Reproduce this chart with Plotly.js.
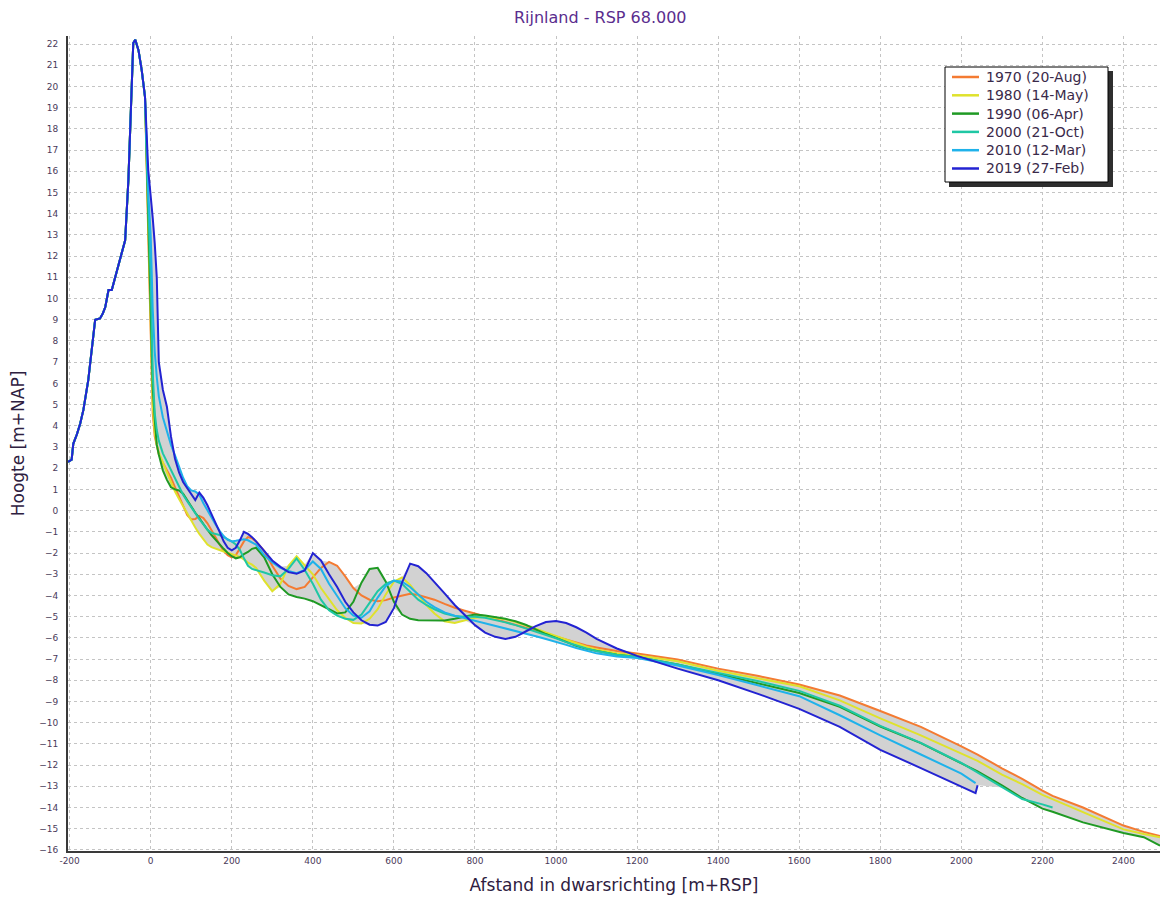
<!DOCTYPE html>
<html>
<head>
<meta charset="utf-8">
<script src="https://cdn.plot.ly/plotly-3.0.1.min.js"></script>
<style>html,body{margin:0;padding:0;background:#fff;}#chart{width:1161px;height:899px;}</style>
</head>
<body>
<div id="chart"></div>
<script>
// Shared dune profile (all surveys coincide landward of the dune front)
const duneX = [-204,-200,-195,-191,-182,-174,-166,-154,-141,-137,-125,-118,-112,-104,-96,-88,-83,-71,-63,-55,-49,-43,-38,-30,-22,-14];
const duneY = [2.3,2.35,2.4,3.15,3.6,4.1,4.75,6.15,8.2,9.0,9.06,9.3,9.6,10.4,10.4,11.0,11.35,12.2,12.75,15.6,18.8,22.05,22.2,21.7,20.75,19.5];

// Seaward distances [m+RSP]
const afstand = [-6,0,5,10,15,20,30,40,50,60,70,80,90,100,110,120,130,140,150,160,170,180,190,200,210,220,230,240,250,260,
  280,300,320,340,360,380,400,420,440,460,480,500,520,540,560,580,600,620,640,660,680,700,
  725,750,775,800,825,850,875,900,925,950,975,1000,1025,1050,1075,1100,1150,1200,
  1300,1400,1500,1600,1700,1800,1900,2000,2035,2040,2100,2150,2200,2225,2300,2400,2450,2490];

const h1970 = [13.0,9.0,4.6,3.5,3.0,2.65,2.25,1.9,1.55,1.1,0.65,0.2,-0.2,-0.42,-0.4,-0.25,-0.35,-0.6,-0.9,-1.25,-1.6,-1.9,-2.1,-2.2,-2.1,-1.8,-1.45,-1.25,-1.3,-1.45,
  -1.9,-2.6,-3.2,-3.55,-3.7,-3.6,-3.15,-2.7,-2.42,-2.6,-3.1,-3.65,-4.0,-4.2,-4.27,-4.22,-4.1,-4.0,-3.92,-3.98,-4.1,-4.2,
  -4.4,-4.58,-4.72,-4.85,-4.97,-5.1,-5.23,-5.38,-5.52,-5.66,-5.8,-5.94,-6.08,-6.22,-6.36,-6.45,-6.62,-6.74,
  -7.02,-7.45,-7.8,-8.2,-8.72,-9.45,-10.2,-11.12,-11.45,-11.5,-12.15,-12.65,-13.2,-13.45,-14.0,-14.85,-15.15,-15.35];

const h1980 = [13.5,9.5,5.0,3.7,3.1,2.75,2.25,1.8,1.35,0.9,0.55,0.2,-0.15,-0.5,-0.8,-1.1,-1.35,-1.6,-1.72,-1.8,-1.87,-1.93,-1.98,-2.05,-2.1,-2.18,-2.3,-2.45,-2.55,-2.7,
  -3.3,-3.8,-3.45,-2.6,-2.15,-2.55,-3.0,-3.65,-4.2,-4.7,-5.05,-5.3,-5.32,-5.1,-4.65,-3.95,-3.35,-3.15,-3.5,-4.0,-4.45,-4.85,
  -5.22,-5.3,-5.18,-5.05,-5.0,-5.05,-5.12,-5.25,-5.4,-5.57,-5.75,-5.92,-6.1,-6.27,-6.42,-6.55,-6.72,-6.82,
  -7.1,-7.55,-7.9,-8.28,-8.95,-9.8,-10.6,-11.45,-11.75,-11.8,-12.45,-12.9,-13.4,-13.6,-14.2,-15.03,-15.25,-15.4];

const h1990 = [13.8,10.0,5.8,4.3,3.1,2.65,1.9,1.45,1.1,1.0,0.95,0.8,0.5,0.15,-0.1,-0.35,-0.65,-0.9,-1.15,-1.35,-1.55,-1.8,-2.0,-2.15,-2.25,-2.2,-2.05,-1.95,-1.8,-1.75,
  -2.2,-3.0,-3.6,-3.95,-4.07,-4.15,-4.27,-4.45,-4.65,-4.85,-4.8,-4.3,-3.4,-2.75,-2.7,-3.35,-4.3,-4.9,-5.1,-5.17,-5.18,-5.2,
  -5.18,-5.1,-5.0,-4.9,-4.95,-5.02,-5.1,-5.22,-5.38,-5.6,-5.82,-6.0,-6.2,-6.38,-6.52,-6.62,-6.8,-6.9,
  -7.25,-7.7,-8.15,-8.6,-9.25,-10.18,-10.96,-11.92,-12.25,-12.3,-12.95,-13.55,-14.05,-14.2,-14.7,-15.2,-15.4,-15.8];

const h2000 = [14.5,11.0,6.5,4.6,3.8,3.3,2.7,2.3,1.9,1.5,1.1,0.75,0.45,0.15,-0.1,-0.4,-0.65,-0.9,-1.05,-1.1,-1.15,-1.25,-1.35,-1.45,-1.6,-1.85,-2.25,-2.6,-2.75,-2.8,
  -2.92,-3.05,-3.1,-2.75,-2.25,-2.8,-3.45,-4.2,-4.7,-4.95,-5.1,-5.15,-4.9,-4.35,-3.8,-3.45,-3.3,-3.45,-3.85,-4.2,-4.45,-4.65,
  -4.85,-4.97,-5.0,-5.0,-5.05,-5.15,-5.27,-5.4,-5.55,-5.7,-5.87,-6.02,-6.2,-6.36,-6.5,-6.62,-6.8,-6.9,
  -7.25,-7.65,-8.05,-8.5,-9.2,-10.15,-10.95,-11.9,-12.3,-12.35,-13.05,-13.6,-13.85,-14.0,null,null,null,null];

const h2010 = [15.0,13.0,9.5,7.5,6.3,5.4,4.4,3.7,3.1,2.6,2.05,1.55,1.15,0.95,0.9,0.75,0.35,0.0,-0.35,-0.65,-0.95,-1.2,-1.38,-1.45,-1.42,-1.38,-1.35,-1.4,-1.5,-1.6,
  -2.1,-2.45,-2.7,-2.85,-2.95,-2.8,-2.4,-2.75,-3.45,-4.05,-4.6,-4.95,-5.05,-4.75,-4.1,-3.55,-3.3,-3.35,-3.6,-3.95,-4.3,-4.55,
  -4.8,-4.95,-5.07,-5.17,-5.3,-5.42,-5.55,-5.65,-5.78,-5.92,-6.05,-6.18,-6.33,-6.48,-6.62,-6.73,-6.88,-6.95,
  -7.3,-7.75,-8.25,-8.75,-9.65,-10.6,-11.5,-12.4,-12.85,null,null,null,null,null,null,null,null,null];

const h2019 = [16.05,15.0,13.8,12.6,11.0,7.0,5.7,4.9,3.5,2.45,1.8,1.35,1.05,0.75,0.5,0.85,0.6,0.25,-0.15,-0.6,-1.0,-1.45,-1.75,-1.87,-1.75,-1.4,-1.0,-1.1,-1.25,-1.45,
  -1.9,-2.35,-2.65,-2.9,-2.98,-2.82,-2.0,-2.35,-3.0,-3.6,-4.3,-4.8,-5.17,-5.38,-5.42,-5.25,-4.6,-3.4,-2.5,-2.62,-2.95,-3.36,
  -3.9,-4.45,-4.95,-5.4,-5.75,-5.95,-6.05,-5.95,-5.7,-5.45,-5.25,-5.2,-5.3,-5.5,-5.75,-6.05,-6.5,-6.85,
  -7.45,-8.0,-8.65,-9.35,-10.2,-11.28,-12.14,-13.0,-13.32,-12.95,null,null,null,null,null,null,null,null];

const seriesNames = ['1970 (20-Aug)','1980 (14-May)','1990 (06-Apr)','2000 (21-Oct)','2010 (12-Mar)','2019 (27-Feb)'];
const seriesData = [h1970,h1980,h1990,h2000,h2010,h2019];
const seriesColors = ['#f47b32','#dfe22c','#1f9a24','#1fc7a4','#1fb2ea','#2323d2'];

const xTicks = [-200,0,200,400,600,800,1000,1200,1400,1600,1800,2000,2200,2400];

// Envelope (grey band between lowest and highest profile)
const upper = afstand.map((_, i) => Math.max(...seriesData.map(s => s[i]).filter(v => v !== null)));
const lower = afstand.map((_, i) => Math.min(...seriesData.map(s => s[i]).filter(v => v !== null)));

const traces = [{
  x: afstand.concat(afstand.slice().reverse()),
  y: upper.concat(lower.slice().reverse()),
  type: 'scatter', mode: 'lines', fill: 'toself',
  fillcolor: '#d2d2d2', line: {width: 0, color: 'rgba(0,0,0,0)'},
  showlegend: false, hoverinfo: 'skip'
}];
seriesNames.forEach((name, k) => {
  traces.push({
    x: duneX.concat(afstand),
    y: duneY.concat(seriesData[k]),
    type: 'scatter', mode: 'lines', name: name,
    line: {color: seriesColors[k], width: 2},
    connectgaps: false, showlegend: false
  });
});

// Plot-area geometry (pixels) used to place the framed legend
const M = {l: 68, r: 1, t: 36, b: 48};
const PW = 1161 - M.l - M.r, PH = 899 - M.t - M.b;
const px = v => (v - M.l) / PW;
const py = v => 1 - (v - M.t) / PH;

const FONT = 'DejaVu Sans, Verdana, sans-serif';
const shapes = [
  {type: 'rect', xref: 'paper', yref: 'paper', layer: 'above',
   x0: px(949), x1: px(1113), y0: py(187), y1: py(71), fillcolor: '#2e2e2e', line: {width: 0}},
  {type: 'rect', xref: 'paper', yref: 'paper', layer: 'above',
   x0: px(945), x1: px(1108), y0: py(182), y1: py(67), fillcolor: '#ffffff', line: {width: 1, color: '#000000'}}
];
const annotations = [];
seriesNames.forEach((name, k) => {
  const rowY = 77 + k * 18.3;
  shapes.push({type: 'line', xref: 'paper', yref: 'paper', layer: 'above',
    x0: px(952), x1: px(979), y0: py(rowY), y1: py(rowY),
    line: {color: seriesColors[k], width: 2.5}});
  annotations.push({xref: 'paper', yref: 'paper', x: px(984), y: py(rowY), xanchor: 'left', yanchor: 'middle',
    text: name, showarrow: false, font: {family: FONT, size: 14, color: '#3a2a4a'}});
});

const layout = {
  width: 1161, height: 899,
  margin: M,
  paper_bgcolor: '#ffffff', plot_bgcolor: '#ffffff',
  font: {family: FONT, size: 10, color: '#4a3a5a'},
  showlegend: false,
  title: {text: 'Rijnland - RSP 68.000', x: 0.517, xref: 'container', y: 0.981, yref: 'container', yanchor: 'middle',
          font: {family: FONT, size: 16, color: '#5a2d8e'}},
  xaxis: {
    range: [-204, 2490], tickvals: xTicks, ticktext: xTicks.map(String),
    showgrid: true, gridcolor: '#c4c4c4', griddash: 'dot', gridwidth: 1,
    zeroline: false, showline: true, linecolor: '#3a3a3a', linewidth: 2,
    ticks: '', tickfont: {family: FONT, size: 9, color: '#4a3a5a'},
    title: {text: 'Afstand in dwarsrichting [m+RSP]', standoff: 14, font: {family: FONT, size: 17, color: '#2e2040'}},
    automargin: false, fixedrange: true
  },
  yaxis: {
    range: [-16.05, 22.38], dtick: 1, tick0: 0,
    showgrid: true, gridcolor: '#c4c4c4', griddash: 'dot', gridwidth: 1,
    zeroline: false, showline: true, linecolor: '#3a3a3a', linewidth: 2,
    ticks: '', ticklabelstandoff: 6, tickfont: {family: FONT, size: 9, color: '#4a3a5a'},
    title: {text: 'Hoogte [m+NAP]', standoff: 10, font: {family: FONT, size: 17, color: '#2e2040'}},
    automargin: false, fixedrange: true
  },
  shapes: shapes,
  annotations: annotations,
  hovermode: false
};

Plotly.newPlot('chart', traces, layout, {displayModeBar: false, staticPlot: true});
</script>
</body>
</html>
